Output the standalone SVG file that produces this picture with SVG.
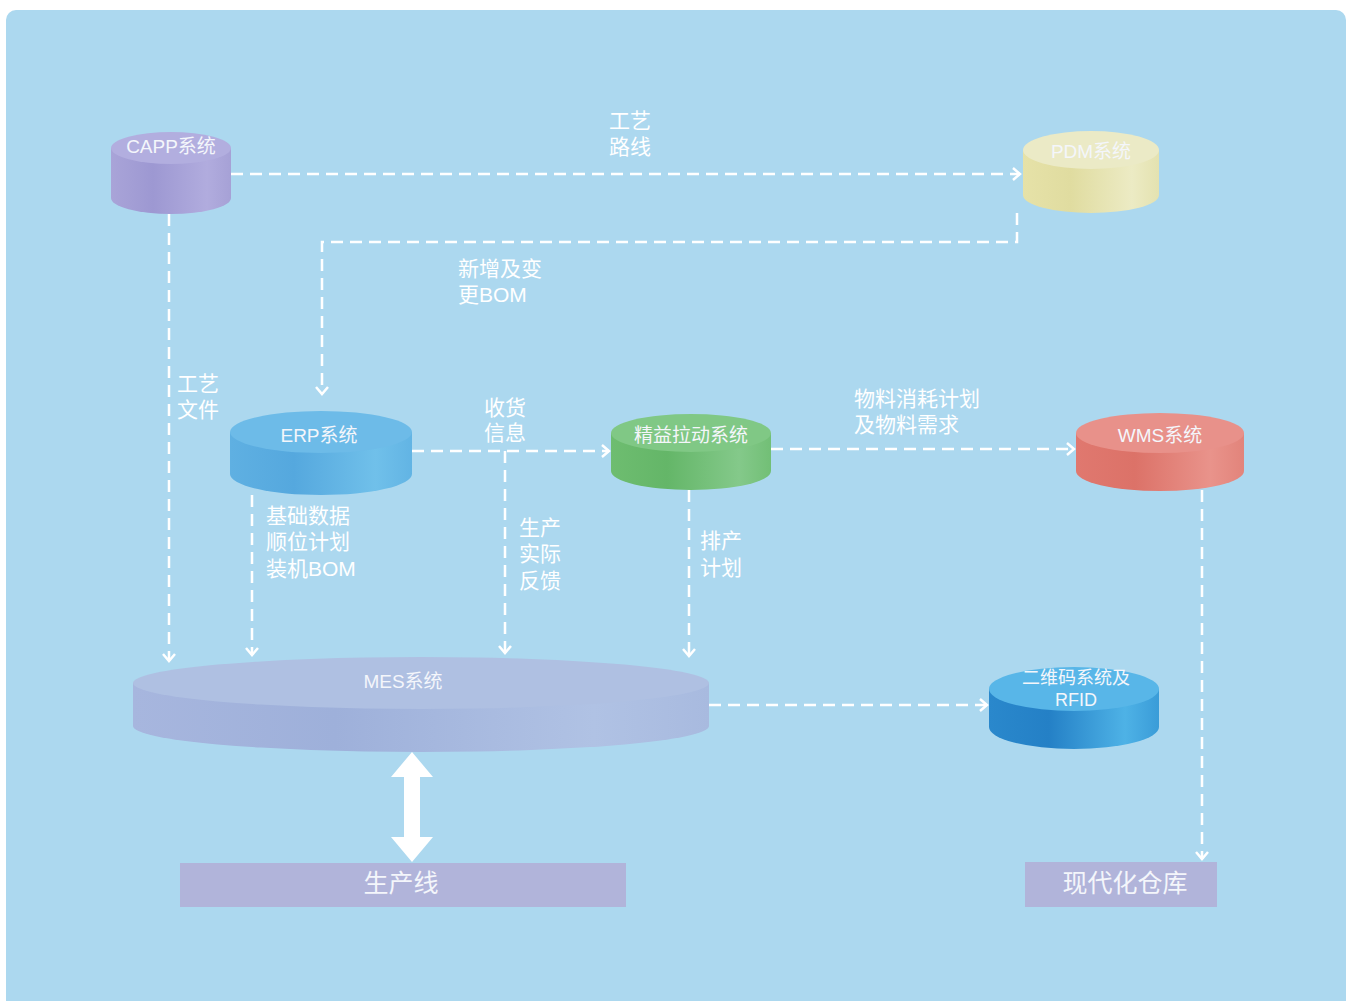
<svg xmlns="http://www.w3.org/2000/svg" width="1355" height="1001" viewBox="0 0 1355 1001">
<defs>
<style>
.conn{fill:none;stroke:#ffffff;stroke-width:2.5;stroke-dasharray:12 7;}
.lbl{font-family:"Liberation Sans","Noto Sans CJK SC",sans-serif;font-size:21px;fill:#ffffff;}
.ntx{font-family:"Liberation Sans","Noto Sans CJK SC",sans-serif;font-size:19px;fill:#f4f6fb;text-anchor:middle;dominant-baseline:central;}
.qtx{font-family:"Liberation Sans","Noto Sans CJK SC",sans-serif;font-size:18px;fill:#f4f6fb;text-anchor:middle;dominant-baseline:central;}
.btx{font-family:"Liberation Sans","Noto Sans CJK SC",sans-serif;font-size:25px;fill:#f4f6fb;text-anchor:middle;dominant-baseline:central;}
</style>
<marker id="ah" markerWidth="12" markerHeight="14" refX="9" refY="7" orient="auto" markerUnits="userSpaceOnUse">
<path d="M2,1 L9,7 L2,13" fill="none" stroke="#ffffff" stroke-width="2.5"/>
</marker>
<linearGradient id="gCapp" x1="0" x2="1" y1="0" y2="0"><stop offset="0" stop-color="#a9a4d8"/><stop offset="0.35" stop-color="#9d98d2"/><stop offset="0.8" stop-color="#b1acde"/><stop offset="1" stop-color="#a6a1d6"/></linearGradient>
<linearGradient id="gPdm" x1="0" x2="1" y1="0" y2="0"><stop offset="0" stop-color="#e6e2a8"/><stop offset="0.35" stop-color="#e0dca0"/><stop offset="0.8" stop-color="#ecebc4"/><stop offset="1" stop-color="#e4e2b0"/></linearGradient>
<linearGradient id="gErp" x1="0" x2="1" y1="0" y2="0"><stop offset="0" stop-color="#5fb0e2"/><stop offset="0.35" stop-color="#55a8de"/><stop offset="0.8" stop-color="#70c0ea"/><stop offset="1" stop-color="#62b4e4"/></linearGradient>
<linearGradient id="gLean" x1="0" x2="1" y1="0" y2="0"><stop offset="0" stop-color="#6ebd70"/><stop offset="0.35" stop-color="#64b668"/><stop offset="0.8" stop-color="#84c98a"/><stop offset="1" stop-color="#72bf76"/></linearGradient>
<linearGradient id="gWms" x1="0" x2="1" y1="0" y2="0"><stop offset="0" stop-color="#e0786f"/><stop offset="0.35" stop-color="#dc7268"/><stop offset="0.8" stop-color="#e9938b"/><stop offset="1" stop-color="#e2847b"/></linearGradient>
<linearGradient id="gMes" x1="0" x2="1" y1="0" y2="0"><stop offset="0" stop-color="#a7b6de"/><stop offset="0.35" stop-color="#9eb0da"/><stop offset="0.8" stop-color="#b0c2e4"/><stop offset="1" stop-color="#a8badf"/></linearGradient>
<linearGradient id="gQr" x1="0" x2="1" y1="0" y2="0"><stop offset="0" stop-color="#2a88cc"/><stop offset="0.35" stop-color="#2480c6"/><stop offset="0.8" stop-color="#4eb2e6"/><stop offset="1" stop-color="#3a9cd8"/></linearGradient>
</defs>
<rect x="0" y="0" width="1355" height="1001" fill="#ffffff"/>
<rect x="6" y="10" width="1340" height="1010" rx="10" fill="#acd8ef"/>

<g id="connectors">
<path class="conn" d="M231,174 H1020" marker-end="url(#ah)"/>
<path class="conn" d="M1017,213 V242 H322 V394" marker-end="url(#ah)"/>
<path class="conn" d="M169,214 V661" marker-end="url(#ah)"/>
<path class="conn" d="M252,495 V655" marker-end="url(#ah)"/>
<path class="conn" d="M412,451 H609" marker-end="url(#ah)"/>
<path class="conn" d="M505,451 V653" marker-end="url(#ah)"/>
<path class="conn" d="M689,490 V656" marker-end="url(#ah)"/>
<path class="conn" d="M771,449 H1074" marker-end="url(#ah)"/>
<path class="conn" d="M709,705 H987" marker-end="url(#ah)"/>
<path class="conn" d="M1202,490 V859" marker-end="url(#ah)"/>
<polygon points="412,752 433,777 420,777 420,837 433,837 412,862 391,837 404,837 404,777 391,777" fill="#ffffff"/>
<text class="lbl" x="630" y="128" text-anchor="middle">工艺</text>
<text class="lbl" x="630" y="154" text-anchor="middle">路线</text>
<text class="lbl" x="458" y="276">新增及变</text>
<text class="lbl" x="458" y="302">更BOM</text>
<text class="lbl" x="177" y="391">工艺</text>
<text class="lbl" x="177" y="417">文件</text>
<text class="lbl" x="484" y="415">收货</text>
<text class="lbl" x="484" y="440">信息</text>
<text class="lbl" x="854" y="406">物料消耗计划</text>
<text class="lbl" x="854" y="432">及物料需求</text>
<text class="lbl" x="266" y="523">基础数据</text>
<text class="lbl" x="266" y="549">顺位计划</text>
<text class="lbl" x="266" y="576">装机BOM</text>
<text class="lbl" x="519" y="535">生产</text>
<text class="lbl" x="519" y="561">实际</text>
<text class="lbl" x="519" y="588">反馈</text>
<text class="lbl" x="700" y="548">排产</text>
<text class="lbl" x="700" y="575">计划</text>
</g>

<g id="capp">
<path d="M111,148 V198 A60,16 0 0 0 231,198 V148 Z" fill="url(#gCapp)"/>
<ellipse cx="171" cy="148" rx="60" ry="16" fill="#b2aedf"/>
<text class="ntx" x="171" y="146">CAPP系统</text>
</g>
<g id="pdm">
<path d="M1023,150 V195 A68,18 0 0 0 1159,195 V150 Z" fill="url(#gPdm)"/>
<ellipse cx="1091" cy="150" rx="68" ry="19" fill="#ebeac6"/>
<text class="ntx" x="1091" y="151">PDM系统</text>
</g>
<g id="erp">
<path d="M230,432 V474 A91,21 0 0 0 412,474 V432 Z" fill="url(#gErp)"/>
<ellipse cx="321" cy="432" rx="91" ry="21" fill="#6dbbe8"/>
<text class="ntx" x="319" y="435">ERP系统</text>
</g>
<g id="lean">
<path d="M611,433 V471 A80,19 0 0 0 771,471 V433 Z" fill="url(#gLean)"/>
<ellipse cx="691" cy="433" rx="80" ry="19" fill="#80c885"/>
<text class="ntx" x="691" y="435">精益拉动系统</text>
</g>
<g id="wms">
<path d="M1076,433 V471 A84,20 0 0 0 1244,471 V433 Z" fill="url(#gWms)"/>
<ellipse cx="1160" cy="433" rx="84" ry="20" fill="#e8918a"/>
<text class="ntx" x="1160" y="435">WMS系统</text>
</g>
<g id="mes">
<path d="M133,683 V726 A288,26 0 0 0 709,726 V683 Z" fill="url(#gMes)"/>
<ellipse cx="421" cy="683" rx="288" ry="26" fill="#afc0e2"/>
<text class="ntx" x="403" y="681">MES系统</text>
</g>
<g id="qr">
<path d="M989,689 V727 A85,22 0 0 0 1159,727 V689 Z" fill="url(#gQr)"/>
<ellipse cx="1074" cy="689" rx="85" ry="22" fill="#58b6e8"/>
<text class="qtx" x="1076" y="678">二维码系统及</text>
<text class="qtx" x="1076" y="700">RFID</text>
</g>
<g id="line">
<rect x="180" y="863" width="446" height="44" fill="#b1b4da"/>
<text class="btx" x="401" y="883">生产线</text>
</g>
<g id="warehouse">
<rect x="1025" y="862" width="192" height="45" fill="#b1b4da"/>
<text class="btx" x="1125" y="883">现代化仓库</text>
</g>
</svg>
